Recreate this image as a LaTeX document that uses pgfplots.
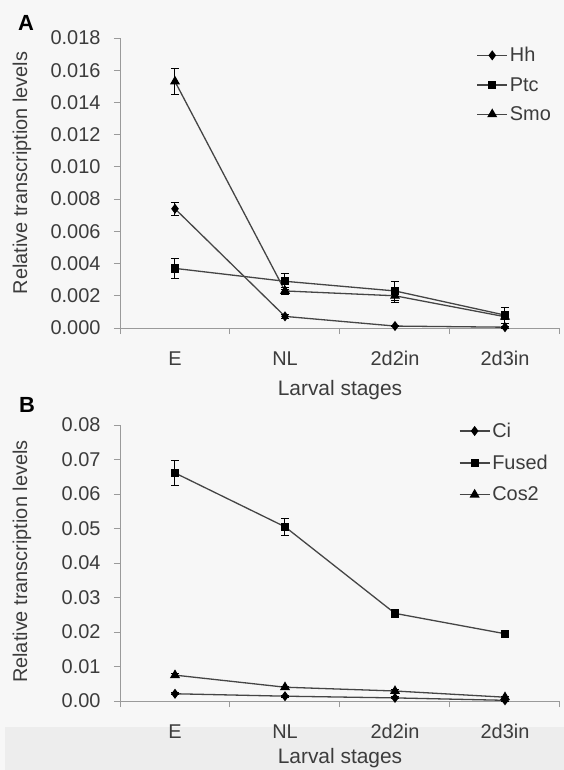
\documentclass[border=0pt]{standalone}
\usepackage{fontspec}
\setmainfont{Liberation Sans}
\usepackage{pgfplots}
\pgfplotsset{compat=1.18}
\definecolor{bg}{HTML}{F7F7F7}
\definecolor{band}{HTML}{EDEDED}
\definecolor{txt}{HTML}{3C3C3C}
\definecolor{ln}{HTML}{454545}
\definecolor{ax}{HTML}{9A9A9A}
\pgfplotsset{
  panel/.style={
    scale only axis, width=440bp,
    axis lines=left, axis line style={-, draw=ax, line width=1bp},
    xmin=-0.5, xmax=3.5, ymin=0,
    xtick={0,1,2,3}, xticklabels={E,NL,2d2in,2d3in},
    major x tick style={draw=none},
    minor xtick={-0.5,0.5,1.5,2.5,3.5},
    minor x tick style={draw=ax, line width=1bp},
    minor tick length=6bp, major tick length=6bp,
    y tick style={draw=ax, line width=1bp},
    tick align=outside,
    font=\fontsize{20}{23}\selectfont, text=txt,
    /pgf/number format/assume math mode=true,
    scaled y ticks=false,
    xticklabel style={yshift=-14bp},
    yticklabel style={xshift=-10bp},
    xlabel={Larval stages},
    ylabel={Relative transcription levels},
    xlabel style={yshift=-7bp, font=\fontsize{21}{24}\selectfont},
    ylabel style={font=\fontsize{21}{24}\selectfont},
    every axis plot/.append style={draw=ln, line width=1.3bp, mark options={fill=black, draw=black, solid}},
    error bars/y dir=both, error bars/y explicit,
    error bars/error bar style={line width=1bp, draw=black},
    error bars/error mark options={rotate=90, mark size=4bp, line width=1bp, black},
    legend style={draw=none, fill=none, font=\fontsize{20}{23}\selectfont, text=txt, inner sep=0pt, cells={anchor=west}},
    legend image code/.code={\draw[#1, mark repeat=2, mark phase=2] plot coordinates {(0bp,0bp)(15bp,0bp)(30bp,0bp)};},
  }
}
\begin{document}
\begin{tikzpicture}
\fill[bg] (0bp,0bp) rectangle (564bp,-770bp);
\fill[band] (5bp,-727bp) rectangle (564bp,-770bp);
\node[font=\fontsize{22}{26}\selectfont\bfseries, text=black] at (26bp,-23bp) {A};
\node[font=\fontsize{22}{26}\selectfont\bfseries, text=black] at (27bp,-405bp) {B};
\begin{axis}[panel, at={(120bp,-328bp)}, anchor=south west, height=290bp,
  ymax=0.018, ytick={0,0.002,...,0.018},
  yticklabel style={/pgf/number format/.cd, fixed, fixed zerofill, precision=3},
  every axis y label/.style={at={(axis description cs:-0.223,0.535)}, rotate=90, anchor=center},
  legend style={at={(axis description cs:0.81,0.975)}, anchor=north west, row sep=10bp}]
\addplot[mark=diamond*, mark size=4bp] coordinates {(0,0.0074) +- (0,0.0004) (1,0.00072) +- (0,0.0001) (2,0.00012) +- (0,0.00005) (3,0.00005) +- (0,0.00005)};
\addplot[mark=square*, mark size=3.5bp] coordinates {(0,0.0037) +- (0,0.0006) (1,0.0029) +- (0,0.0005) (2,0.0023) +- (0,0.0006) (3,0.0008) +- (0,0.0005)};
\addplot[mark=triangle*, mark size=4.5bp] coordinates {(0,0.0153) +- (0,0.0008) (1,0.0023) +- (0,0.0002) (2,0.0020) +- (0,0.0004) (3,0.0007) +- (0,0.0002)};
\legend{Hh,Ptc,Smo}
\end{axis}
\begin{axis}[panel, at={(120bp,-701bp)}, anchor=south west, height=276bp,
  ymax=0.08, ytick={0,0.01,...,0.08},
  yticklabel style={/pgf/number format/.cd, fixed, fixed zerofill, precision=2},
  xlabel style={yshift=5bp},
  every axis y label/.style={at={(axis description cs:-0.223,0.505)}, rotate=90, anchor=center},
  legend style={at={(axis description cs:0.77,1.015)}, anchor=north west, row sep=12bp}]
\addplot[mark=diamond*, mark size=4bp] coordinates {(0,0.0021) +- (0,0.0003) (1,0.0014) +- (0,0.0003) (2,0.0009) +- (0,0.0003) (3,0.0002) +- (0,0.0002)};
\addplot[mark=square*, mark size=3.5bp] coordinates {(0,0.0661) +- (0,0.0035) (1,0.0505) +- (0,0.0025) (2,0.0254) +- (0,0.0008) (3,0.0195) +- (0,0.0008)};
\addplot[mark=triangle*, mark size=4.5bp] coordinates {(0,0.0075) +- (0,0.0004) (1,0.0040) +- (0,0.0003) (2,0.0029) +- (0,0.0003) (3,0.0011) +- (0,0.0003)};
\legend{Ci,Fused,Cos2}
\end{axis}
\pgfresetboundingbox
\path[use as bounding box] (0bp,0bp) rectangle (564bp,-770bp);
\end{tikzpicture}
\end{document}
